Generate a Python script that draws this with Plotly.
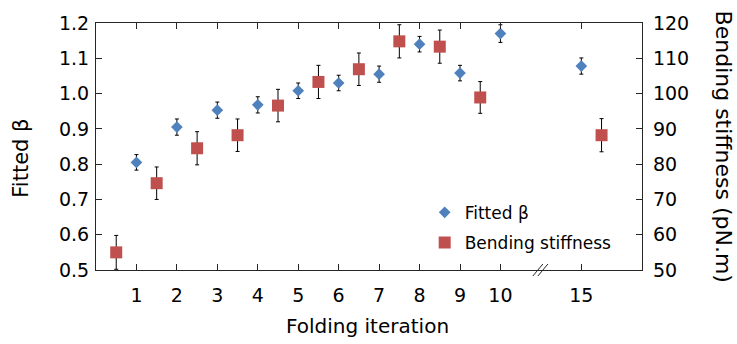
import plotly.graph_objects as go

# Fitted beta per folding iteration
beta_iterations = [1, 2, 3, 4, 5, 6, 7, 8, 9, 10, 15]
beta = [0.805, 0.905, 0.953, 0.968, 1.008, 1.030, 1.055, 1.140, 1.058, 1.170, 1.078]
beta_err = [0.022, 0.023, 0.023, 0.023, 0.022, 0.022, 0.023, 0.022, 0.022, 0.025, 0.023]

# Bending stiffness (pN.m), drawn half a step to the right of its iteration
stiff_iterations = [0, 1, 2, 3, 4, 5, 6, 7, 8, 9, 15]
stiffness = [55.0, 74.6, 84.5, 88.2, 96.6, 103.3, 106.9, 114.8, 113.3, 98.9, 88.2]
stiff_err = [4.8, 4.6, 4.7, 4.6, 4.6, 4.7, 4.6, 4.7, 4.7, 4.5, 4.7]

tick_iterations = [1, 2, 3, 4, 5, 6, 7, 8, 9, 10, 15]

BREAK_AFTER = 10   # axis is broken between 10 and 15
BREAK_SKIP = 3     # iteration 15 sits two slots after 10


def slot(it):
    """Position on the broken x axis."""
    return it if it <= BREAK_AFTER else it - BREAK_SKIP


BLUE = "#4F81BD"
RED = "#C0504D"
FONT = "DejaVu Sans"
AX = "#262626"

fig = go.Figure()

fig.add_trace(go.Scatter(
    x=[slot(i) for i in beta_iterations], y=beta,
    mode="markers", name="Fitted β", legendgroup="a",
    marker=dict(symbol="diamond", size=9, color=BLUE),
    error_y=dict(type="data", array=beta_err, color="black", thickness=1, width=2),
    yaxis="y", cliponaxis=False,
))

fig.add_trace(go.Scatter(
    x=[slot(i) + 0.5 for i in stiff_iterations], y=stiffness,
    mode="markers", name="Bending stiffness", legendgroup="b",
    marker=dict(symbol="square", size=12, color=RED),
    error_y=dict(type="data", array=stiff_err, color="black", thickness=1, width=2),
    yaxis="y2", cliponaxis=False,
))

axis_common = dict(
    showline=True, linecolor=AX, linewidth=1.2,
    ticks="inside", ticklen=6, tickcolor=AX, tickwidth=1,
    showgrid=False, zeroline=False,
    tickfont=dict(family=FONT, size=19, color="black"),
)

fig.update_layout(
    width=737, height=344,
    margin=dict(l=96, r=95, t=15, b=74),
    paper_bgcolor="white", plot_bgcolor="white",
    font=dict(family=FONT, color="black"),
    xaxis=dict(
        range=[0, 13.5],
        tickvals=[slot(i) for i in tick_iterations],
        ticktext=[str(i) for i in tick_iterations],
        mirror="ticks", ticklabelstandoff=8,
        **axis_common,
    ),
    yaxis=dict(
        range=[0.5, 1.2], tickvals=[0.5, 0.6, 0.7, 0.8, 0.9, 1.0, 1.1, 1.2],
        tickformat=".1f", ticklabelstandoff=2,
        **axis_common,
    ),
    yaxis2=dict(
        range=[50, 120], tickvals=[50, 60, 70, 80, 90, 100, 110, 120],
        overlaying="y", side="right", ticklabelstandoff=6,
        **axis_common,
    ),
    showlegend=True,
    legend=dict(
        x=0.602, xanchor="left", y=0.171, yanchor="middle",
        bgcolor="rgba(0,0,0,0)", borderwidth=0,
        font=dict(family=FONT, size=17, color="black"),
        traceorder="grouped", tracegroupgap=5,
    ),
)

# Axis titles
fig.add_annotation(text="Folding iteration", xref="paper", yref="paper",
                   x=0.497, y=-0.225, xanchor="center", yanchor="middle",
                   showarrow=False, font=dict(family=FONT, size=20))
fig.add_annotation(text="Fitted β", xref="paper", yref="paper",
                   x=-0.139, y=0.451, xanchor="center", yanchor="middle",
                   textangle=-90, showarrow=False, font=dict(family=FONT, size=21))
fig.add_annotation(text="Bending stiffness (pN.m)", xref="paper", yref="paper",
                   x=1.15, y=0.5, xanchor="center", yanchor="middle",
                   textangle=90, showarrow=False, font=dict(family=FONT, size=22))

# Break marks on the x axis
for dx in (-3, 2):
    fig.add_shape(type="line", xref="x", yref="paper",
                  xsizemode="pixel", ysizemode="pixel",
                  xanchor=BREAK_AFTER + 1, yanchor=0,
                  x0=dx - 5, x1=dx + 5, y0=-6, y1=6,
                  line=dict(color=AX, width=1))

fig.write_html("out.html")
